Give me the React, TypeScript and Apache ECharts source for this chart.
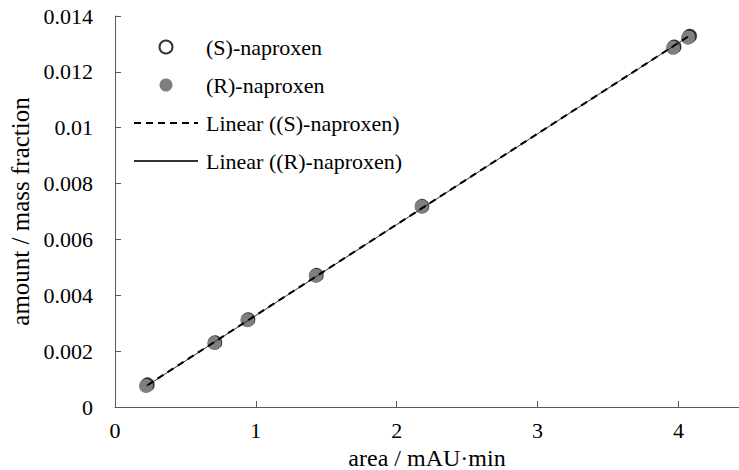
import React, { useEffect, useRef } from "react";
import * as echarts from "echarts";

const sX = [0.23, 0.71, 0.945, 1.43, 2.18, 3.97, 4.08];
const sY = [0.0008, 0.00231, 0.00313, 0.00472, 0.00719, 0.0129, 0.01328];
const rX = [0.22, 0.705, 0.94, 1.425, 2.177, 3.962, 4.068];
const rY = [0.00075, 0.00229, 0.00311, 0.0047, 0.00718, 0.01286, 0.01322];
const sTrendX = [0.23, 4.08];
const sTrendY = [0.00078, 0.0133];
const rTrendX = [0.22, 4.07];
const rTrendY = [0.00074, 0.01326];

const FONT = "Liberation Serif";

const pairs = (xs: number[], ys: number[]) => xs.map((x, i) => [x, ys[i]]);

export default function App() {
  const ref = useRef<HTMLDivElement>(null);
  useEffect(() => {
    if (!ref.current) return;
    const chart = echarts.init(ref.current, undefined, { renderer: "svg" });
    chart.setOption({
      animation: false,
      backgroundColor: "#fff",
      textStyle: { fontFamily: FONT, color: "#000" },
      grid: { left: 115, right: 0, top: 16, bottom: 63, containLabel: false, outerBoundsMode: "none" },
      legend: {
        orient: "vertical",
        left: 128,
        top: 31,
        itemWidth: 64,
        itemHeight: 13,
        itemGap: 16,
        textStyle: { fontFamily: FONT, fontSize: 22, color: "#000", padding: [0, 0, 0, 3] },
        data: [
          "(S)-naproxen",
          "(R)-naproxen",
          { name: "Linear ((S)-naproxen)", itemStyle: { opacity: 0 } },
          { name: "Linear ((R)-naproxen)", itemStyle: { opacity: 0 } },
        ],
      },
      xAxis: {
        type: "value",
        min: 0,
        max: 4.43,
        interval: 1,
        name: "area / mAU·min",
        nameLocation: "middle",
        nameGap: 34,
        nameTextStyle: { fontFamily: FONT, fontSize: 24, color: "#000" },
        axisLine: { show: true, lineStyle: { color: "#595959", width: 1 } },
        axisTick: { show: true, inside: true, length: 6, lineStyle: { color: "#595959" } },
        axisLabel: { fontFamily: FONT, fontSize: 22, color: "#000", margin: 12, showMaxLabel: false },
        splitLine: { show: false },
      },
      yAxis: {
        type: "value",
        min: 0,
        max: 0.014,
        interval: 0.002,
        name: "amount / mass fraction",
        nameLocation: "middle",
        nameGap: 62,
        nameTextStyle: { fontFamily: FONT, fontSize: 25, color: "#000" },
        axisLine: { show: true, lineStyle: { color: "#595959", width: 1 } },
        axisTick: { show: true, inside: true, length: 6, lineStyle: { color: "#595959" } },
        axisLabel: { fontFamily: FONT, fontSize: 22, color: "#000", margin: 22, padding: [8, 0, 0, 0] },
        splitLine: { show: false },
      },
      series: [
        {
          name: "(S)-naproxen",
          type: "scatter",
          symbol: "circle",
          symbolSize: 12,
          data: pairs(sX, sY),
          itemStyle: { color: "rgba(255,255,255,0)", borderColor: "#000", borderWidth: 2.5 },
          z: 2,
        },
        {
          name: "(R)-naproxen",
          type: "scatter",
          symbol: "circle",
          symbolSize: 14,
          data: pairs(rX, rY),
          itemStyle: { color: "#7f7f7f", opacity: 1 },
          z: 3,
        },
        {
          name: "Linear ((S)-naproxen)",
          type: "line",
          symbol: "none",
          data: pairs(sTrendX, sTrendY),
          lineStyle: { color: "#000", width: 2, type: [7, 5] },
          itemStyle: { color: "#000" },
          z: 5,
        },
        {
          name: "Linear ((R)-naproxen)",
          type: "line",
          symbol: "none",
          data: pairs(rTrendX, rTrendY),
          lineStyle: { color: "#333", width: 1, type: "solid" },
          itemStyle: { color: "#333" },
          z: 4,
        },
      ],
    });
    return () => chart.dispose();
  }, []);
  return (
    <div
      ref={ref}
      style={{ position: "fixed", left: 0, top: 0, width: 739, height: 470, background: "#fff" }}
    />
  );
}
